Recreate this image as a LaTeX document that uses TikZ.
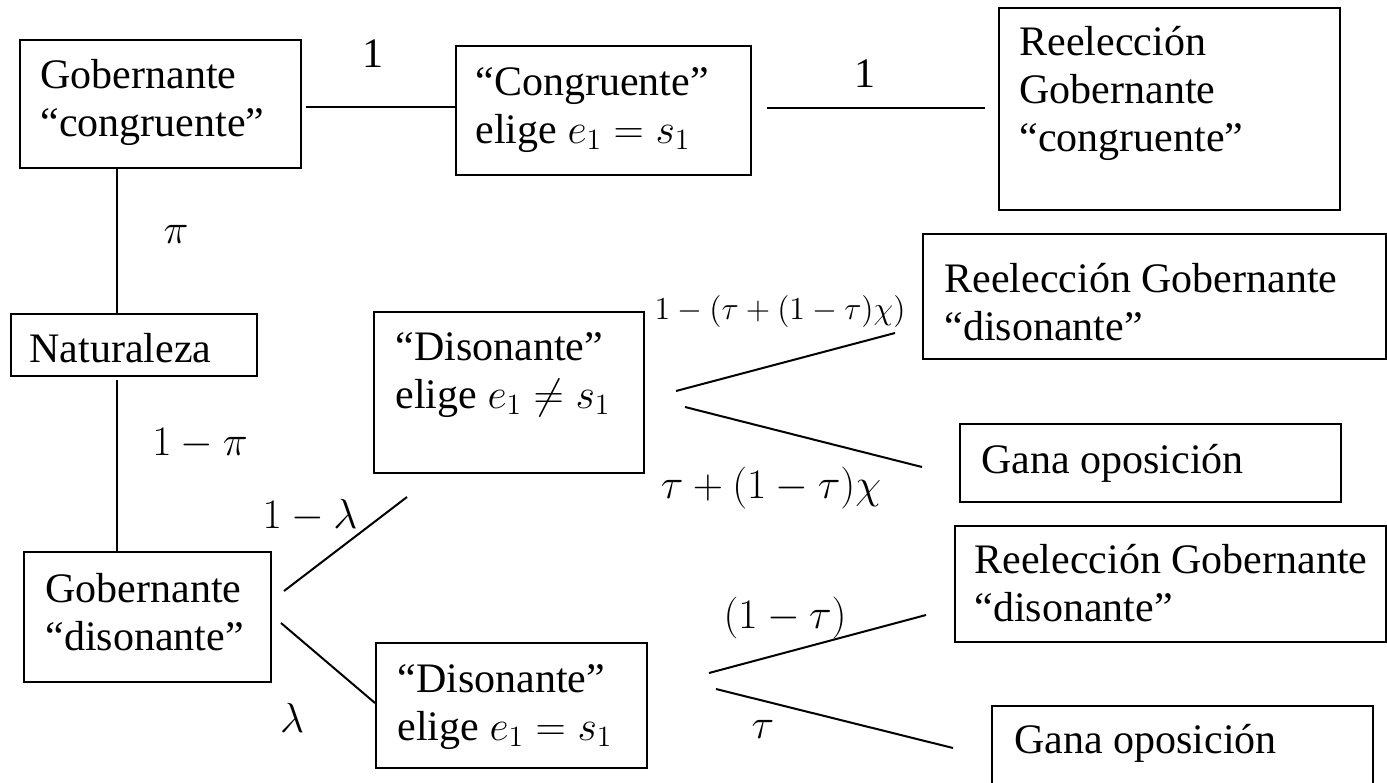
\RequirePackage{fix-cm}
\documentclass[tikz,border=0pt]{standalone}
\usepackage{fontspec}
\setmainfont{Liberation Serif}
\newcommand{\boxtext}[1]{\begin{tabular}[t]{@{}l@{}}#1\end{tabular}}
\begin{document}
\begin{tikzpicture}[x=0.5pt,y=-0.5pt,
  box/.style={draw, line width=1pt, inner sep=0pt, anchor=north west},
  txt/.style={inner sep=0pt, anchor=base west, font=\fontsize{21}{24}\selectfont},
  lbl/.style={inner sep=0pt, anchor=base, font=\fontsize{21}{24}\selectfont},
  conn/.style={line width=1pt}]
\useasboundingbox (0,0) rectangle (1387,782);
\clip (0,0) rectangle (1387,782);
\fill[white] (0,0) rectangle (1387,782);
% boxes
\node[box, minimum width=140.5pt, minimum height=64pt] (gc) at (19,39) {};
\node[box, minimum width=147.5pt, minimum height=64.5pt] (ce) at (455,45) {};
\node[box, minimum width=170.5pt, minimum height=101pt] (rc) at (998,7) {};
\node[box, minimum width=123pt, minimum height=31pt] (nat) at (10,313) {};
\node[box, minimum width=135pt, minimum height=80.5pt] (dn) at (373,311) {};
\node[box, minimum width=231.5pt, minimum height=62.5pt] (rd1) at (922,233) {};
\node[box, minimum width=190.5pt, minimum height=39pt] (go1) at (959,423) {};
\node[box, minimum width=123.5pt, minimum height=65pt] (gd) at (23,551) {};
\node[box, minimum width=135.5pt, minimum height=62.5pt] (de) at (375,642) {};
\node[box, minimum width=215.5pt, minimum height=58pt] (rd2) at (954,525) {};
\node[box, minimum width=190.5pt, minimum height=60pt] (go2) at (991,705) {};
% texts
\node[txt] (gcT) at (40,88) {\boxtext{Gobernante\\“congruente”}};
\node[txt] (ceT) at (475,95) {\boxtext{“Congruente”\\elige $e_1=s_1$}};
\node[txt] (rcT) at (1019,55) {\boxtext{Reelección\\Gobernante\\“congruente”}};
\node[txt] (natT) at (29,362) {Naturaleza};
\node[txt] (dnT) at (395,360) {\boxtext{“Disonante”\\elige $e_1\neq s_1$}};
\node[txt] (rd1T) at (944,292) {\boxtext{Reelección Gobernante\\“disonante”}};
\node[txt] (go1T) at (981,473) {Gana oposición};
\node[txt] (gdT) at (45,602) {\boxtext{Gobernante\\“disonante”}};
\node[txt] (deT) at (397,692) {\boxtext{“Disonante”\\elige $e_1=s_1$}};
\node[txt] (rd2T) at (974,573) {\boxtext{Reelección Gobernante\\“disonante”}};
\node[txt] (go2T) at (1014,753) {Gana oposición};
% connector end points
\coordinate (vx) at (117,0);
\coordinate (a1) at (306,107);
\coordinate (b2) at (767,108);
\coordinate (a2) at (985,108);
\coordinate (v4a) at (117,380);
\coordinate (p5a) at (284,591);
\coordinate (p5b) at (407,497);
\coordinate (p6a) at (281,623);
\coordinate (p6b) at (375,703);
\coordinate (p7a) at (676,391);
\coordinate (p7b) at (895,333);
\coordinate (p8a) at (685,407);
\coordinate (p8b) at (922,467);
\coordinate (p9a) at (709,673);
\coordinate (p9b) at (926,615);
\coordinate (p10a) at (716,689);
\coordinate (p10b) at (953,748);
% connectors
\draw[conn] (a1) -- (a1 -| ce.west);
\draw[conn] (b2) -- (a2);
\draw[conn] (gc.south -| vx) -- (nat.north -| vx);
\draw[conn] (v4a) -- (gd.north -| vx);
\draw[conn] (p5a) -- (p5b);
\draw[conn] (p6a) -- (p6b);
\draw[conn] (p7a) -- (p7b);
\draw[conn] (p8a) -- (p8b);
\draw[conn] (p9a) -- (p9b);
\draw[conn] (p10a) -- (p10b);
% labels
\node[lbl] (w1) at (373,67) {1};
\node[lbl] (w2) at (865,87) {1};
\node[lbl] (wpi) at (176,243) {$\pi$};
\node[lbl] (w1pi) at (200,455) {$1-\pi$};
\node[lbl] (w1l) at (310,528) {$1-\lambda$};
\node[lbl] (wl) at (292,732) {$\lambda$};
\node[lbl, font=\fontsize{16}{19}\selectfont] (wsm) at (780,319) {$1-(\tau+(1-\tau)\chi)$};
\node[lbl] (wtc) at (771,498) {$\tau+(1-\tau)\chi$};
\node[lbl] (w1t) at (785,628) {$(1-\tau)$};
\node[lbl] (wt) at (763,738) {$\tau$};
\end{tikzpicture}
\end{document}
